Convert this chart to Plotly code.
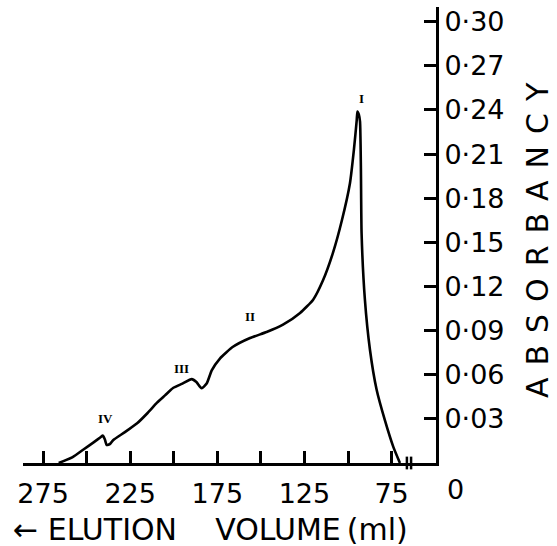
import plotly.graph_objects as go

# ---- data ----
volume_ml = [266, 258, 252, 246, 242, 240.7, 239.5, 238.5, 236.5, 234.8, 228, 221, 215,
             209.6, 205, 200.4, 195, 189.7, 187, 184, 181.1, 178.2, 173.5, 166, 156.2,
             146.7, 137.3, 127.5, 120, 114.4, 108.6, 103.5, 98.9, 96.6, 95, 94.6, 93.8,
             93.1, 92.6, 92.2, 90.3, 87.4, 83.6, 78.8, 74, 70.2]
absorbancy = [0.0, 0.004, 0.009, 0.014, 0.0175, 0.0186, 0.016, 0.0122, 0.013, 0.0155, 0.021,
              0.027, 0.034, 0.041, 0.046, 0.051, 0.054, 0.057, 0.055, 0.0508, 0.054, 0.063,
              0.071, 0.079, 0.085, 0.089, 0.094, 0.102, 0.111, 0.124, 0.143, 0.165, 0.190,
              0.213, 0.233, 0.239, 0.237, 0.232, 0.201, 0.156, 0.111, 0.077, 0.050, 0.029,
              0.011, 0.0]

peak_names = ["I", "II", "III", "IV"]
peak_vol = [92.2, 156.2, 195.8, 239.1]
peak_lab_y = [0.248, 0.0996, 0.064, 0.030]

x_tickvals = [275, 250, 225, 200, 175, 150, 125, 100, 75]
x_ticktext = ["275", "", "225", "", "175", "", "125", "", "75"]
y_tickvals = [0.03, 0.06, 0.09, 0.12, 0.15, 0.18, 0.21, 0.24, 0.27, 0.30]
y_ticktext = ["0·03", "0·06", "0·09", "0·12", "0·15", "0·18", "0·21", "0·24", "0·27", "0·30"]
x_range = [286.5, 49.5]
y_range = [0, 0.31]
break_at = 65
zero_label = "0"

FONT = "DejaVu Sans"

fig = go.Figure()
fig.add_trace(go.Scatter(x=volume_ml, y=absorbancy, mode="lines",
                         line=dict(color="black", width=2.6, shape="spline", smoothing=0.5),
                         showlegend=False, hoverinfo="skip"))

for name, vx, vy in zip(peak_names, peak_vol, peak_lab_y):
    fig.add_annotation(x=vx, y=vy, text="<b>" + name + "</b>", showarrow=False,
                       xanchor="center", yanchor="middle",
                       font=dict(family="Liberation Serif", size=13, color="black"))

# axis break mark
for dx in (-1.2, 1.2):
    fig.add_shape(type="line", xref="x", yref="paper",
                  x0=break_at + dx, x1=break_at + dx, y0=-0.014, y1=0.014,
                  line=dict(color="black", width=2.5))

fig.add_annotation(xref="paper", yref="paper", x=1.047, y=-0.058, text=zero_label,
                   xanchor="center", yanchor="middle",
                   showarrow=False, font=dict(family=FONT, size=27, color="black"))

fig.add_annotation(xref="paper", yref="paper", x=-0.029, y=-0.145,
                   xanchor="left", yanchor="middle",
                   text="←\u00a0ELUTION\u00a0\u00a0\u00a0\u00a0VOLUME\u2009(ml)", showarrow=False,
                   font=dict(family=FONT, size=30, color="black"))

fig.add_annotation(xref="paper", yref="paper", x=1.2446, y=0.489, textangle=-90,
                   xanchor="center", yanchor="middle",
                   text="\u2009\u2009".join(list("ABSORBANCY")), showarrow=False,
                   font=dict(family=FONT, size=30, color="black"))

fig.update_layout(
    width=557, height=546,
    margin=dict(l=23, r=121, t=7, b=83, pad=0),
    paper_bgcolor="white", plot_bgcolor="white",
    xaxis=dict(range=x_range, showline=True, linewidth=3, linecolor="black",
               ticks="inside", ticklen=12, tickwidth=2.5, tickcolor="black",
               tickvals=x_tickvals, ticktext=x_ticktext, showgrid=False, zeroline=False,
               automargin=False, ticklabelstandoff=5,
               tickfont=dict(family=FONT, size=27, color="black")),
    yaxis=dict(range=y_range, side="right", showline=True, linewidth=3, linecolor="black",
               ticks="inside", ticklen=12, tickwidth=2.5, tickcolor="black",
               tickvals=y_tickvals, ticktext=y_ticktext, showgrid=False, zeroline=False,
               automargin=False, ticklabelstandoff=0,
               tickfont=dict(family=FONT, size=27, color="black")),
)

fig.write_html("out.html", config={"displayModeBar": False},
               post_script="document.body.style.margin='0';")
